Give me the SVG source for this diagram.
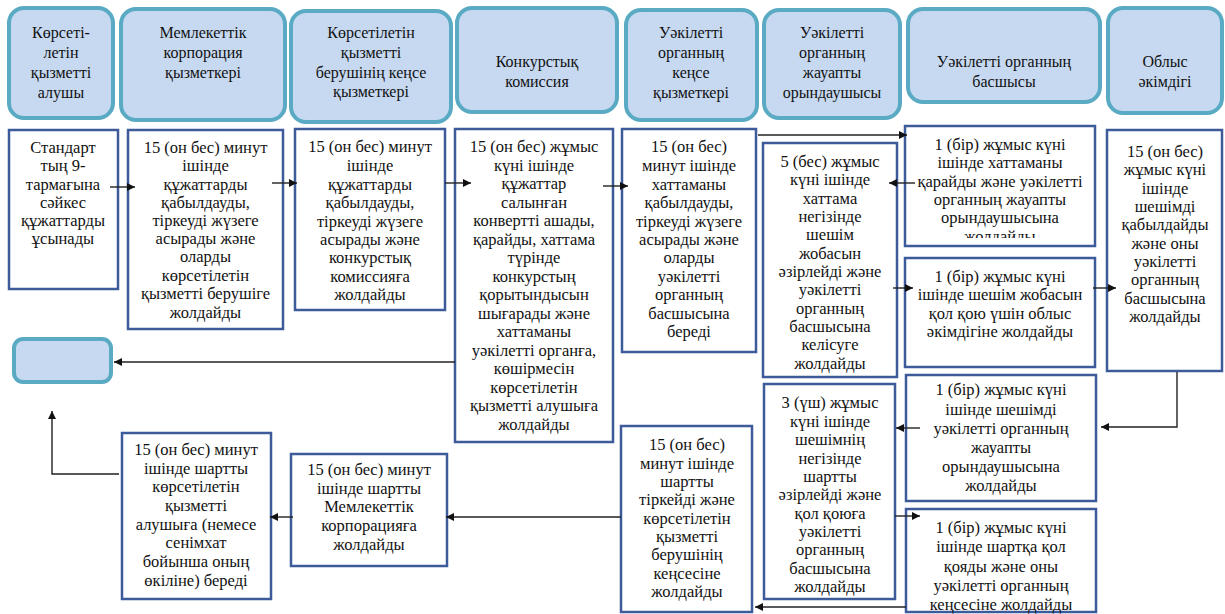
<svg xmlns="http://www.w3.org/2000/svg" width="1225" height="614" viewBox="0 0 1225 614" font-family="'Liberation Serif','DejaVu Serif',serif">
<style>
.hd{fill:#c6d9f1;stroke:#5aaac4;stroke-width:4}
.bx{fill:#ffffff;stroke:#3d5b9a;stroke-width:2.5}
text{font-family:'Liberation Serif','DejaVu Serif',serif;font-size:16.5px;fill:#111;text-anchor:middle}
g.h text{font-size:16px}
.cn{fill:none;stroke:#222;stroke-width:1.4}
</style>
<defs>
<marker id="ah" viewBox="0 0 10 10" refX="10" refY="5" markerWidth="10" markerHeight="8" markerUnits="userSpaceOnUse" orient="auto">
<path d="M0,0 L10,5 L0,10 z" fill="#111"/>
</marker>
<clipPath id="clipG"><rect x="905" y="126" width="190" height="112"/></clipPath>
</defs>
<rect width="1225" height="614" fill="#fff"/>

<g id="h1" class="h"><rect class="hd" x="9" y="8" width="104" height="110" rx="15"/>
<text x="61" y="38">Көрсеті-</text><text x="61" y="58">летін</text><text x="61" y="78">қызметті</text><text x="61" y="98">алушы</text></g>
<g id="h2" class="h"><rect class="hd" x="121" y="9" width="164" height="111" rx="15"/>
<text x="203" y="38">Мемлекеттік</text><text x="203" y="58">корпорация</text><text x="203" y="78">қызметкері</text></g>
<g id="h3" class="h"><rect class="hd" x="291" y="11" width="160" height="111" rx="15"/>
<text x="371" y="38">Көрсетілетін</text><text x="371" y="58">қызметті</text><text x="371" y="78">берушінің кеңсе</text><text x="371" y="97">қызметкері</text></g>
<g id="h4" class="h"><rect class="hd" x="457" y="8" width="160" height="104" rx="15"/>
<text x="537" y="67">Конкурстық</text><text x="537" y="87">комиссия</text></g>
<g id="h5" class="h"><rect class="hd" x="626" y="10" width="131" height="110" rx="15"/>
<text x="691" y="38">Уәкілетті</text><text x="691" y="58">органның</text><text x="691" y="78">кеңсе</text><text x="691" y="98">қызметкері</text></g>
<g id="h6" class="h"><rect class="hd" x="764" y="10" width="136" height="108" rx="15"/>
<text x="832" y="38">Уәкілетті</text><text x="832" y="58">органның</text><text x="832" y="78">жауапты</text><text x="832" y="98">орындаушысы</text></g>
<g id="h7" class="h"><rect class="hd" x="908" y="9" width="192" height="93" rx="15"/>
<text x="1004" y="67">Уәкілетті органның</text><text x="1004" y="87">басшысы</text></g>
<g id="h8" class="h"><rect class="hd" x="1108" y="8" width="114" height="105" rx="15"/>
<text x="1165" y="67">Облыс</text><text x="1165" y="87">әкімдігі</text></g>
<g id="end"><rect class="hd" x="14" y="339" width="97" height="43" rx="9"/></g>

<g id="A"><rect class="bx" x="9" y="130" width="109" height="159"/>
<text x="63" y="153">Стандарт</text><text x="63" y="171">тың 9-</text><text x="63" y="189.5">тармағына</text><text x="63" y="208">сәйкес</text><text x="63" y="226">құжаттарды</text><text x="63" y="244">ұсынады</text></g>
<g id="B"><rect class="bx" x="128" y="130" width="155" height="199"/>
<text x="205.5" y="153">15 (он бес) минут</text><text x="205.5" y="171">ішінде</text><text x="205.5" y="189.5">құжаттарды</text><text x="205.5" y="208">қабылдауды,</text><text x="205.5" y="226">тіркеуді жүзеге</text><text x="205.5" y="244">асырады және</text><text x="205.5" y="262">оларды</text><text x="205.5" y="280.5">көрсетілетін</text><text x="205.5" y="299">қызметті берушіге</text><text x="205.5" y="318">жолдайды</text></g>
<g id="C"><rect class="bx" x="295" y="129" width="150" height="181"/>
<text x="370" y="152">15 (он бес) минут</text><text x="370" y="171">ішінде</text><text x="370" y="189.5">құжаттарды</text><text x="370" y="208">қабылдауды,</text><text x="370" y="226.5">тіркеуді жүзеге</text><text x="370" y="245">асырады және</text><text x="370" y="263">конкурстық</text><text x="370" y="281.5">комиссияға</text><text x="370" y="300">жолдайды</text></g>
<g id="D"><rect class="bx" x="455" y="129" width="158" height="313"/>
<text x="534" y="152">15 (он бес) жұмыс</text><text x="534" y="170.5">күні ішінде</text><text x="534" y="189">құжаттар</text><text x="534" y="207.5">салынған</text><text x="534" y="226">конвертті ашады,</text><text x="534" y="244.5">қарайды, хаттама</text><text x="534" y="263">түрінде</text><text x="534" y="281.5">конкурстың</text><text x="534" y="300">қорытындысын</text><text x="534" y="318.5">шығарады және</text><text x="534" y="337">хаттаманы</text><text x="534" y="355.5">уәкілетті органға,</text><text x="534" y="374">көшірмесін</text><text x="534" y="392.5">көрсетілетін</text><text x="534" y="411">қызметті алушыға</text><text x="534" y="429.5">жолдайды</text></g>
<g id="E"><rect class="bx" x="622" y="129" width="134" height="223"/>
<text x="689" y="152">15 (он бес)</text><text x="689" y="171">минут ішінде</text><text x="689" y="189.5">хаттаманы</text><text x="689" y="208">қабылдауды,</text><text x="689" y="226.5">тіркеуді жүзеге</text><text x="689" y="245">асырады және</text><text x="689" y="263">оларды</text><text x="689" y="281.5">уәкілетті</text><text x="689" y="300">органның</text><text x="689" y="318.5">басшысына</text><text x="689" y="337">береді</text></g>
<g id="F"><rect class="bx" x="763" y="143" width="134" height="234"/>
<text x="830" y="167">5 (бес) жұмыс</text><text x="830" y="185">күні ішінде</text><text x="830" y="203.5">хаттама</text><text x="830" y="222">негізінде</text><text x="830" y="240">шешім</text><text x="830" y="258.5">жобасын</text><text x="830" y="277">әзірлейді және</text><text x="830" y="295">уәкілетті</text><text x="830" y="313.5">органның</text><text x="830" y="332">басшысына</text><text x="830" y="350">келісуге</text><text x="830" y="368.5">жолдайды</text></g>
<g id="G"><rect class="bx" x="905" y="126" width="190" height="120"/>
<g clip-path="url(#clipG)"><text x="1000" y="150">1 (бір) жұмыс күні</text><text x="1000" y="168">ішінде хаттаманы</text><text x="1000" y="187">қарайды және уәкілетті</text><text x="1000" y="205">органның жауапты</text><text x="1000" y="222.5">орындаушысына</text><text x="1000" y="242">жолдайды</text></g></g>
<g id="H"><rect class="bx" x="905" y="258" width="190" height="109"/>
<text x="1000" y="282">1 (бір) жұмыс күні</text><text x="1000" y="300">ішінде шешім жобасын</text><text x="1000" y="318.5">қол қою үшін облыс</text><text x="1000" y="337">әкімдігіне жолдайды</text></g>
<g id="I"><rect class="bx" x="1107" y="130" width="115" height="241"/>
<text x="1165" y="157">15 (он бес)</text><text x="1165" y="175">жұмыс күні</text><text x="1165" y="193.5">ішінде</text><text x="1165" y="212">шешімді</text><text x="1165" y="230">қабылдайды</text><text x="1165" y="248.5">және оны</text><text x="1165" y="267">уәкілетті</text><text x="1165" y="285">органның</text><text x="1165" y="303.5">басшысына</text><text x="1165" y="322">жолдайды</text></g>
<g id="J"><rect class="bx" x="906" y="375" width="190" height="126"/>
<text x="1001" y="395">1 (бір) жұмыс күні</text><text x="1001" y="414.5">ішінде шешімді</text><text x="1001" y="434">уәкілетті органның</text><text x="1001" y="453">жауапты</text><text x="1001" y="472">орындаушысына</text><text x="1001" y="490.5">жолдайды</text></g>
<g id="N"><rect class="bx" x="764" y="384" width="131" height="215"/>
<text x="830" y="408">3 (үш) жұмыс</text><text x="830" y="426.5">күні ішінде</text><text x="830" y="445">шешімнің</text><text x="830" y="463.5">негізінде</text><text x="830" y="482">шартты</text><text x="830" y="500">әзірлейді және</text><text x="830" y="518.5">қол қоюға</text><text x="830" y="537">уәкілетті</text><text x="830" y="555">органның</text><text x="830" y="573.5">басшысына</text><text x="830" y="591.5">жолдайды</text></g>
<g id="O"><rect class="bx" x="906" y="509" width="190" height="103"/>
<text x="1001" y="533">1 (бір) жұмыс күні</text><text x="1001" y="552">ішінде шартқа қол</text><text x="1001" y="572">қояды және оны</text><text x="1001" y="591">уәкілетті органның</text><text x="1001" y="610">кеңсесіне жолдайды</text></g>
<g id="M"><rect class="bx" x="621" y="426" width="131" height="186"/>
<text x="687" y="450">15 (он бес)</text><text x="687" y="468.5">минут ішінде</text><text x="687" y="487">шартты</text><text x="687" y="505">тіркейді және</text><text x="687" y="523.5">көрсетілетін</text><text x="687" y="542">қызметті</text><text x="687" y="560">берушінің</text><text x="687" y="578.5">кеңсесіне</text><text x="687" y="597">жолдайды</text></g>
<g id="L"><rect class="bx" x="291" y="454" width="156" height="112"/>
<text x="369" y="475">15 (он бес) минут</text><text x="369" y="493.5">ішінде шартты</text><text x="369" y="512">Мемлекеттік</text><text x="369" y="530.5">корпорацияға</text><text x="369" y="550">жолдайды</text></g>
<g id="K"><rect class="bx" x="122" y="433" width="149" height="166"/>
<text x="196" y="455">15 (он бес) минут</text><text x="196" y="473.5">ішінде шартты</text><text x="196" y="492">көрсетілетін</text><text x="196" y="511">қызметті</text><text x="196" y="529.5">алушыға (немесе</text><text x="196" y="548">сенімхат</text><text x="196" y="567">бойынша оның</text><text x="196" y="585.5">өкіліне) береді</text></g>

<g id="connectors">
<line class="cn" x1="110" y1="187" x2="135" y2="187" marker-end="url(#ah)"/>
<line class="cn" x1="272" y1="183" x2="297" y2="183" marker-end="url(#ah)"/>
<line class="cn" x1="445" y1="183" x2="471" y2="183" marker-end="url(#ah)"/>
<line class="cn" x1="603" y1="186" x2="628" y2="186" marker-end="url(#ah)"/>
<line class="cn" x1="758" y1="135" x2="907" y2="135" marker-end="url(#ah)"/>
<line class="cn" x1="915" y1="183" x2="889" y2="183" marker-end="url(#ah)"/>
<line class="cn" x1="893" y1="288" x2="913" y2="288" marker-end="url(#ah)"/>
<line class="cn" x1="1093" y1="288" x2="1116" y2="288" marker-end="url(#ah)"/>
<polyline class="cn" points="1177,372 1177,427 1101,427" marker-end="url(#ah)"/>
<line class="cn" x1="920" y1="428" x2="896" y2="428" marker-end="url(#ah)"/>
<line class="cn" x1="895" y1="516" x2="920" y2="516" marker-end="url(#ah)"/>
<line class="cn" x1="906" y1="607" x2="755" y2="607" marker-end="url(#ah)"/>
<line class="cn" x1="621" y1="517" x2="446" y2="517" marker-end="url(#ah)"/>
<line class="cn" x1="293" y1="517" x2="270" y2="517" marker-end="url(#ah)"/>
<polyline class="cn" points="119,474 52,474 52,411" marker-end="url(#ah)"/>
<line class="cn" x1="455" y1="362" x2="114" y2="362" marker-end="url(#ah)"/>
</g>
</svg>
